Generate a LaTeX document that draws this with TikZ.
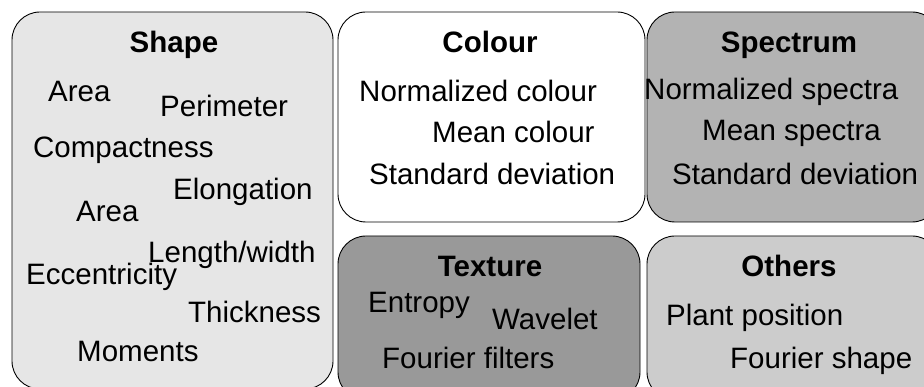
\documentclass[tikz,border=0pt]{standalone}
\usepackage{fontspec}
\setmainfont{Liberation Sans}
\definecolor{shapegrey}{HTML}{E6E6E6}
\definecolor{specgrey}{HTML}{B3B3B3}
\definecolor{texgrey}{HTML}{999999}
\definecolor{othgrey}{HTML}{CCCCCC}
\tikzset{
  panel/.style={draw=black, line width=0.9pt, rounded corners=28pt, inner sep=0pt, outer sep=0pt},
  title/.style={inner sep=0pt, anchor=base, font=\fontsize{29.5}{34}\selectfont\bfseries},
  item/.style={inner sep=0pt, anchor=base west, font=\fontsize{29.5}{34}\selectfont},
}
\begin{document}
\begin{tikzpicture}[x=1pt, y=-1pt]
\clip (0,0) rectangle (924,387);
\fill[white] (0,0) rectangle (924,387);
% panels
\path[panel, fill=shapegrey] (12,12) rectangle (333,389);
\path[panel, fill=white] (338,12) rectangle (645,222);
\path[panel, fill=specgrey] (647,12) rectangle (940,222);
\path[panel, fill=texgrey] (338,236) rectangle (640,400);
\path[panel, fill=othgrey] (647,236) rectangle (940,400);
% Shape
\node[title] (tshape) at (174,53) {Shape};
\node[item] (s1) at (48,102) {Area};
\node[item] (s2) at (160,117) {Perimeter};
\node[item] (s3) at (33,158) {Compactness};
\node[item] (s4) at (173,200) {Elongation};
\node[item] (s5) at (76,222) {Area};
\node[item] (s6) at (148,263) {Length/width};
\node[item] (s7) at (26,285) {Eccentricity};
\node[item] (s8) at (188,323) {Thickness};
\node[item] (s9) at (77,362) {Moments};
% Colour
\node[title] (tcol) at (490,53) {Colour};
\node[item] (c1) at (359,102) {Normalized colour};
\node[item] (c2) at (432,143) {Mean colour};
\node[item] (c3) at (369,185) {Standard deviation};
% Spectrum
\node[title] (tspec) at (789,53) {Spectrum};
\node[item] (p1) at (644,100) {Normalized spectra};
\node[item] (p2) at (702,141) {Mean spectra};
\node[item] (p3) at (672,185) {Standard deviation};
% Texture
\node[title] (ttex) at (490,277) {Texture};
\node[item] (x1) at (368,313) {Entropy};
\node[item] (x2) at (492,330) {Wavelet};
\node[item] (x3) at (382,368) {Fourier filters};
% Others
\node[title] (toth) at (789,277) {Others};
\node[item] (o1) at (666,326) {Plant position};
\node[item] (o2) at (730,368) {Fourier shape};
\end{tikzpicture}
\end{document}
